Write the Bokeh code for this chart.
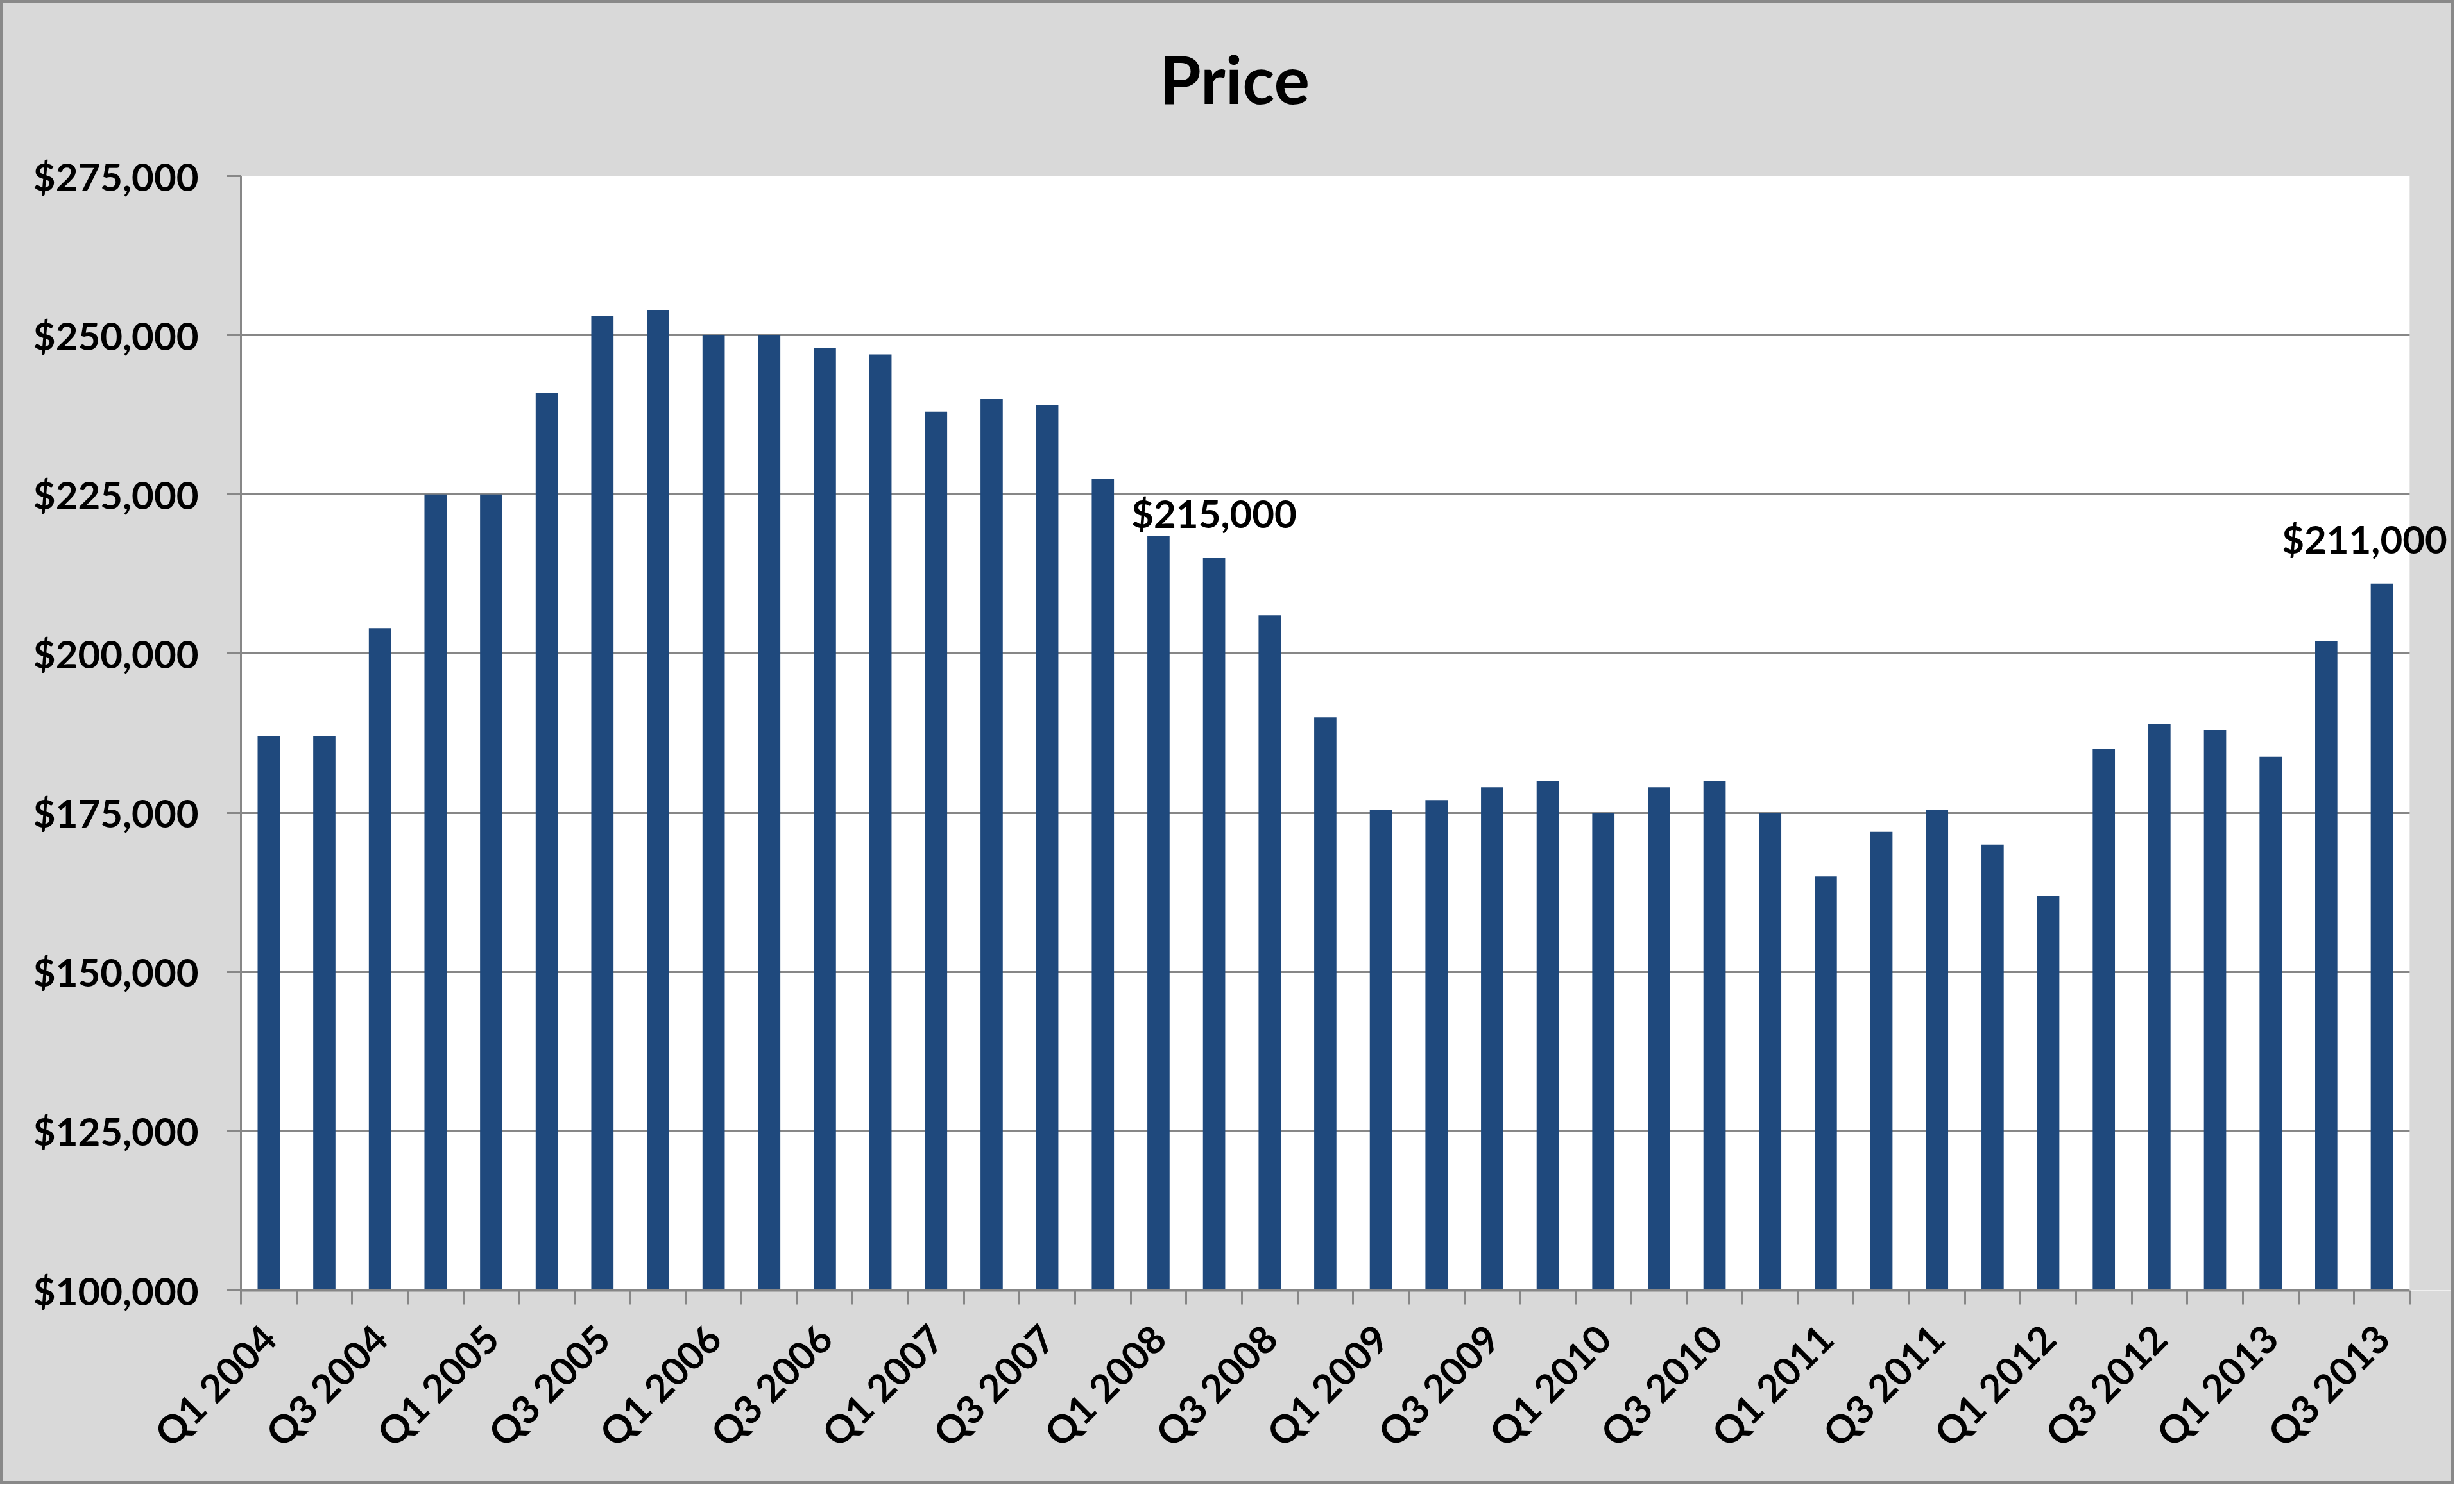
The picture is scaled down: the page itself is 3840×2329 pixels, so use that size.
import math
from bokeh.plotting import figure
from bokeh.models import (ColumnDataSource, Range1d, FixedTicker, NumeralTickFormatter,
                          LabelSet, BoxAnnotation, Title)
from bokeh.core.properties import value
from bokeh.embed import file_html
from bokeh.resources import INLINE

# ---------------- data ----------------
quarters = [
    "Q1 2004", "Q2 2004", "Q3 2004", "Q4 2004",
    "Q1 2005", "Q2 2005", "Q3 2005", "Q4 2005",
    "Q1 2006", "Q2 2006", "Q3 2006", "Q4 2006",
    "Q1 2007", "Q2 2007", "Q3 2007", "Q4 2007",
    "Q1 2008", "Q2 2008", "Q3 2008", "Q4 2008",
    "Q1 2009", "Q2 2009", "Q3 2009", "Q4 2009",
    "Q1 2010", "Q2 2010", "Q3 2010", "Q4 2010",
    "Q1 2011", "Q2 2011", "Q3 2011", "Q4 2011",
    "Q1 2012", "Q2 2012", "Q3 2012", "Q4 2012",
    "Q1 2013", "Q2 2013", "Q3 2013",
]
prices = [
    187000, 187000, 204000, 225000,
    225000, 241000, 253000, 254000,
    250000, 250000, 248000, 247000,
    238000, 240000, 239000, 227500,
    218500, 215000, 206000, 190000,
    175500, 177000, 179000, 180000,
    175000, 179000, 180000, 175000,
    165000, 172000, 175500, 170000,
    162000, 185000, 189000, 188000,
    183800, 202000, 211000,
]
shown_tick_labels = [q for q in quarters if q.startswith("Q1") or q.startswith("Q3")]
labeled_quarters = ["Q2 2008", "Q3 2013"]
y_ticks = [100000, 125000, 150000, 175000, 200000, 225000, 250000, 275000]
title_text = "Price"

# ---------------- styles / layout ----------------
BAR = "#1F497D"
GRID = "#878787"
BG = "#D9D9D9"
FONT = "Lato"
TICK_SIZE = "60px"
W, H = 3824, 2313
LEFT, TOP, BOTTOM = 371, 270, 306
PLOT_W = 3372          # width of the white plot area in px
RIGHT_PAD = 73         # gray strip right of the plot area (inside the frame)

n = len(quarters)
xs = list(range(n))
src = ColumnDataSource(dict(x=xs, price=prices, q=quarters))

x_start, x_end = -0.5, n - 0.5
x_extra = RIGHT_PAD * (x_end - x_start) / PLOT_W

p = figure(width=W, height=H, output_backend="svg", toolbar_location=None,
           x_range=Range1d(x_start, x_end + x_extra),
           y_range=Range1d(y_ticks[0], y_ticks[-1]),
           min_border_left=LEFT, min_border_right=0, min_border_top=TOP,
           min_border_bottom=BOTTOM)
p.styles = {"border": "4px solid #898989"}

p.background_fill_color = "white"
p.border_fill_color = BG
p.outline_line_color = None

# spacer between plot area and title, then the title itself
p.add_layout(Title(text=" ", text_font_size="40px", standoff=45), "above")
p.add_layout(Title(text=title_text, align="left", offset=1432, standoff=0,
                   text_font=FONT, text_font_style="bold", text_font_size="104px",
                   text_color="black"), "above")

p.vbar(x="x", top="price", bottom=y_ticks[0], width=0.4, source=src,
       fill_color=BAR, line_color=None)

# y axis
p.yaxis.ticker = FixedTicker(ticks=y_ticks)
p.yaxis.formatter = NumeralTickFormatter(format="$0,0")
p.yaxis.major_label_text_font = FONT
p.yaxis.major_label_text_font_style = "bold"
p.yaxis.major_label_text_font_size = TICK_SIZE
p.yaxis.major_label_text_color = "black"
p.yaxis.major_label_standoff = 44
p.yaxis.major_tick_out = 22
p.yaxis.major_tick_in = 0
p.yaxis.major_tick_line_color = GRID
p.yaxis.major_tick_line_width = 3
p.yaxis.minor_tick_line_color = None
p.yaxis.axis_line_color = GRID
p.yaxis.axis_line_width = 3

p.ygrid.grid_line_color = GRID
p.ygrid.grid_line_width = 3
p.xgrid.visible = False

# x axis
label_pos = [quarters.index(q) for q in shown_tick_labels]
boundaries = [i - 0.5 for i in range(n + 1)]
p.xaxis.ticker = FixedTicker(ticks=label_pos, minor_ticks=boundaries)
p.xaxis.bounds = (x_start, x_end)
p.xaxis.major_label_overrides = {i: quarters[i] for i in label_pos}
p.xaxis.major_label_orientation = math.pi / 4
p.xaxis.major_label_text_font = FONT
p.xaxis.major_label_text_font_style = "bold"
p.xaxis.major_label_text_font_size = TICK_SIZE
p.xaxis.major_label_text_color = "black"
p.xaxis.major_label_standoff = 42
p.xaxis.major_tick_line_color = None
p.xaxis.major_tick_out = 22
p.xaxis.major_tick_in = 0
p.xaxis.minor_tick_out = 22
p.xaxis.minor_tick_in = 0
p.xaxis.minor_tick_line_color = GRID
p.xaxis.minor_tick_line_width = 3
p.xaxis.axis_line_color = GRID
p.xaxis.axis_line_width = 4

# gray strip to the right of the plot area (chart-area background)
p.add_layout(BoxAnnotation(left=x_end, fill_color=BG, fill_alpha=1.0,
                           line_color=None, level="annotation"))

# data labels
label_shift = {"Q3 2013": -27}
lab_idx = [quarters.index(q) for q in labeled_quarters]
lab_src = ColumnDataSource(dict(
    x=lab_idx,
    y=[prices[i] for i in lab_idx],
    text=["${:,.0f}".format(prices[i]) for i in lab_idx],
    dx=[label_shift.get(q, 0) for q in labeled_quarters],
))
p.add_layout(LabelSet(x="x", y="y", text="text", source=lab_src, x_offset="dx",
                      y_offset=47, text_align="center", text_baseline="alphabetic",
                      text_font=value(FONT), text_font_style=value("bold"),
                      text_font_size=value(TICK_SIZE), text_color="black",
                      level="overlay"))

open("out.html", "w").write(file_html(p, INLINE))
